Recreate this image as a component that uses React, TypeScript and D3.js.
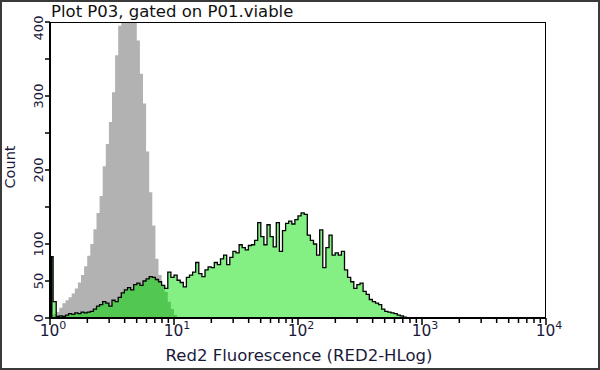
import React, { useEffect, useRef } from 'react';
import * as d3 from 'd3';

// histogram counts, 40 bins per decade starting at 10^0
const binsPerDecade = 40;

const grayCounts = [
  2, 5, 8, 14, 20, 24, 28, 33, 40, 48,
  58, 70, 84, 100, 120, 142, 165, 205, 235, 265,
  305, 355, 395, 420, 440, 425, 445, 420, 375, 330,
  290, 225, 170, 125, 80, 58, 45, 35, 22, 12,
  4,
];

const greenCounts = [
  83, 22, 2, 3, 2, 4, 6, 5, 7, 6,
  8, 7, 8, 9, 12, 16, 18, 22, 20, 16,
  24, 22, 28, 34, 38, 41, 38, 45, 47, 44,
  50, 53, 56, 55, 52, 49, 44, 40, 62, 55,
  58, 51, 48, 42, 55, 58, 62, 75, 60, 56,
  65, 69, 68, 75, 72, 80, 85, 72, 82, 90,
  88, 99, 95, 92, 98, 99, 105, 129, 110, 99,
  126, 110, 96, 129, 90, 118, 128, 131, 127, 133,
  138, 142, 140, 112, 105, 100, 85, 119, 68, 95,
  112, 85, 88, 85, 90, 65, 55, 49, 40, 45,
  47, 36, 32, 25, 22, 20, 18, 12, 9, 8,
  7, 6, 4, 3, 1,
];

const yTicks = [0, 50, 100, 150, 200, 250, 300, 350, 400];
const yLabels = [0, 50, 100, 200, 300, 400];
const decades = [0, 1, 2, 3, 4];

const font = '"DejaVu Sans", Verdana, sans-serif';
const textColor = '#1a1a3a';

const App: React.FC = () => {
  const svgRef = useRef<SVGSVGElement>(null);

  useEffect(() => {
    const svg = d3.select(svgRef.current);
    svg.selectAll('*').remove();

    const left = 50, right = 546, top = 22, bottom = 318;

    const x = d3.scaleLog().domain([1, 1e4]).range([left, right]);
    const y = d3.scaleLinear().domain([0, 400]).range([bottom, top]);

    const toPoints = (counts: number[]) => {
      const pts = counts.map((c, i) => [Math.pow(10, i / binsPerDecade), c] as [number, number]);
      pts.push([Math.pow(10, counts.length / binsPerDecade), 0]);
      return pts;
    };

    const area = d3.area<[number, number]>()
      .x(d => x(d[0]))
      .y0(y(0))
      .y1(d => y(d[1]))
      .curve(d3.curveStepAfter);

    const line = d3.line<[number, number]>()
      .x(d => x(d[0]))
      .y(d => y(d[1]))
      .curve(d3.curveStepAfter);

    const grayPts = toPoints(grayCounts);
    const greenPts = toPoints(greenCounts);

    // outer border
    svg.append('rect')
      .attr('x', 1).attr('y', 1)
      .attr('width', 598).attr('height', 368)
      .attr('fill', '#fff')
      .attr('stroke', '#3a3a3a')
      .attr('stroke-width', 2);

    const defs = svg.append('defs');
    defs.append('clipPath').attr('id', 'plotClip')
      .append('rect')
      .attr('x', left).attr('y', top)
      .attr('width', right - left).attr('height', bottom - top);
    defs.append('clipPath').attr('id', 'grayClip')
      .append('path')
      .attr('d', area(grayPts) as string);

    const plot = svg.append('g').attr('clip-path', 'url(#plotClip)');

    plot.append('path')
      .attr('d', area(grayPts) as string)
      .attr('fill', '#b2b2b2');

    plot.append('path')
      .attr('d', area(greenPts) as string)
      .attr('fill', '#84f084');

    // overlap of green over gray
    plot.append('g').attr('clip-path', 'url(#grayClip)')
      .append('path')
      .attr('d', area(greenPts) as string)
      .attr('fill', '#52c852');

    plot.append('path')
      .attr('d', line(greenPts) as string)
      .attr('fill', 'none')
      .attr('stroke', '#000')
      .attr('stroke-width', 1.3);

    // first channel spike drawn as a heavy black bar on the axis
    svg.append('line')
      .attr('x1', left + 1).attr('x2', left + 1)
      .attr('y1', y(greenCounts[0])).attr('y2', bottom)
      .attr('stroke', '#000').attr('stroke-width', 3);

    // frame
    svg.append('rect')
      .attr('x', left + 0.5).attr('y', top + 0.5)
      .attr('width', right - left - 1).attr('height', bottom - top)
      .attr('fill', 'none')
      .attr('stroke', '#000')
      .attr('stroke-width', 1);

    svg.append('line')
      .attr('x1', left - 1).attr('x2', right)
      .attr('y1', bottom).attr('y2', bottom)
      .attr('stroke', '#000').attr('stroke-width', 2);
    svg.append('line')
      .attr('x1', left).attr('x2', left)
      .attr('y1', top).attr('y2', bottom + 1)
      .attr('stroke', '#000').attr('stroke-width', 2);

    // x ticks
    const xTickVals: number[] = [];
    decades.forEach(dcd => {
      if (dcd < 4) {
        for (let m = 1; m < 10; m++) xTickVals.push(m * Math.pow(10, dcd));
      } else {
        xTickVals.push(1e4);
      }
    });
    svg.append('g').selectAll('line')
      .data(xTickVals)
      .enter().append('line')
      .attr('x1', d => x(d)).attr('x2', d => x(d))
      .attr('y1', bottom)
      .attr('y2', d => (Math.log10(d) % 1 === 0 ? bottom + 7 : bottom + 5))
      .attr('stroke', '#000')
      .attr('stroke-width', 1.5);

    const xl = svg.append('g').selectAll('text')
      .data(decades)
      .enter().append('text')
      .attr('x', d => x(Math.pow(10, d)) + 3)
      .attr('y', 336)
      .attr('text-anchor', 'middle')
      .style('font-family', font)
      .style('font-size', '15.5px')
      .attr('fill', textColor);
    xl.append('tspan').text('10');
    xl.append('tspan')
      .attr('dy', -7)
      .style('font-size', '11px')
      .text(d => String(d));

    // y ticks
    svg.append('g').selectAll('line')
      .data(yTicks)
      .enter().append('line')
      .attr('x1', left - 5).attr('x2', left)
      .attr('y1', d => y(d)).attr('y2', d => y(d))
      .attr('stroke', '#000')
      .attr('stroke-width', 1.5);

    svg.append('g').selectAll('text')
      .data(yLabels)
      .enter().append('text')
      .attr('transform', d => `translate(43,${d === 400 ? y(d) + 6 : y(d)}) rotate(-90)`)
      .attr('text-anchor', 'middle')
      .style('font-family', font)
      .style('font-size', '13px')
      .attr('fill', textColor)
      .text(d => String(d));

    // titles
    svg.append('text')
      .attr('x', 51).attr('y', 17)
      .style('font-family', font)
      .style('font-size', '16.5px')
      .attr('fill', '#111')
      .text('Plot P03, gated on P01.viable');

    svg.append('text')
      .attr('transform', `translate(15,167) rotate(-90)`)
      .attr('text-anchor', 'middle')
      .style('font-family', font)
      .style('font-size', '14.5px')
      .attr('fill', textColor)
      .text('Count');

    svg.append('text')
      .attr('x', 299).attr('y', 361)
      .attr('text-anchor', 'middle')
      .style('font-family', font)
      .style('font-size', '16.5px')
      .attr('fill', textColor)
      .text('Red2 Fluorescence (RED2-HLog)');
  }, []);

  return (
    <svg
      ref={svgRef}
      width={600}
      height={370}
      style={{ position: 'absolute', left: 0, top: 0 }}
    ></svg>
  );
};

export default App;
